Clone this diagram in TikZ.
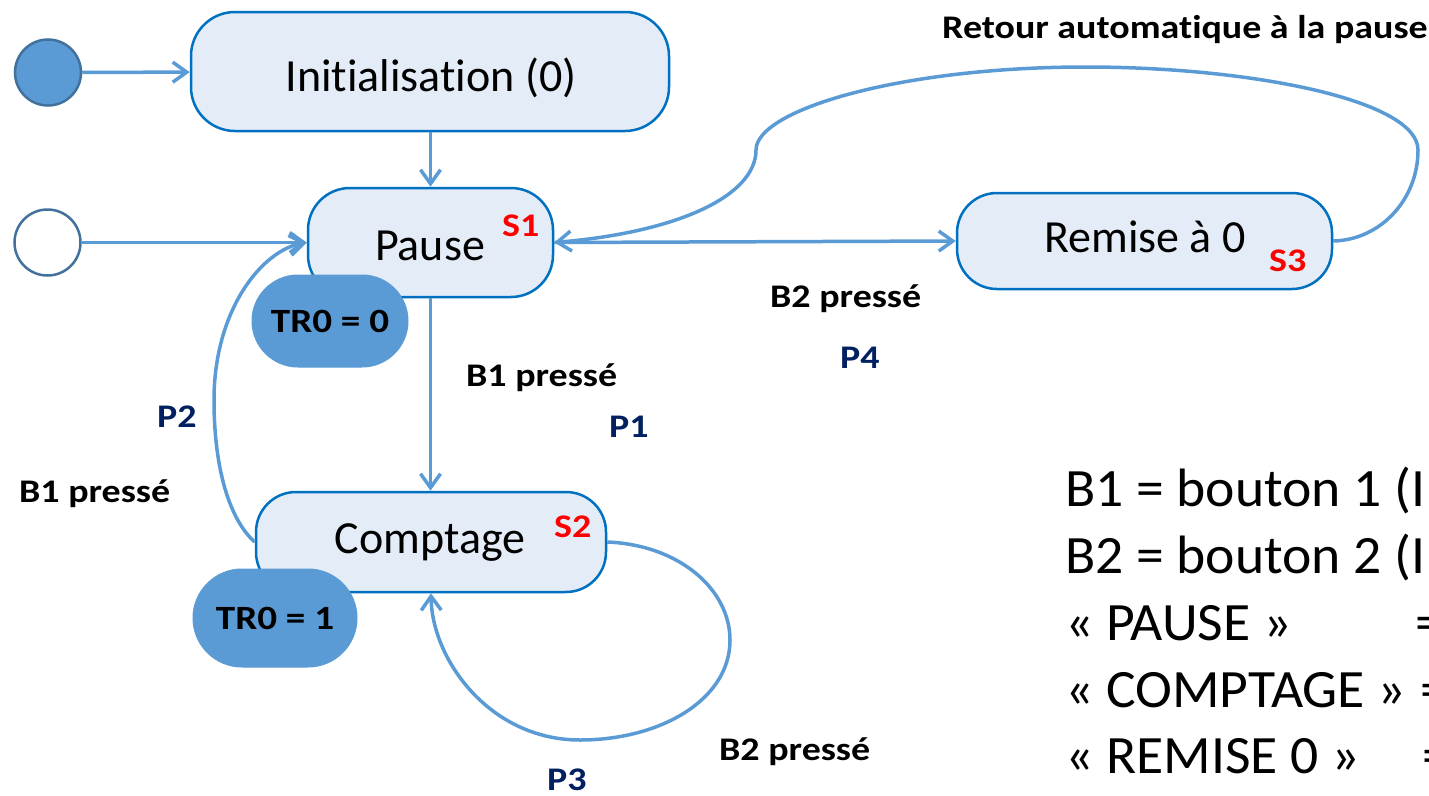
\documentclass[tikz,border=0pt]{standalone}
\usepackage{fontspec}
\setmainfont{Carlito}[Ligatures=NoCommon]
\newfontfamily\lblfont{Carlito}[FakeStretch=1.15, Ligatures=NoCommon]
\newfontfamily\legfont{Carlito}[FakeStretch=1.03, Ligatures=NoCommon]
\usetikzlibrary{arrows.meta}

\definecolor{stateFill}{RGB}{228,236,247}
\definecolor{stateLine}{RGB}{0,112,192}
\definecolor{connBlue}{RGB}{91,155,213}
\definecolor{ringLine}{RGB}{65,113,156}
\definecolor{navyTxt}{RGB}{0,32,96}
\definecolor{tagRed}{RGB}{255,0,0}

\begin{document}
\begin{tikzpicture}[x=1pt,y=-1pt,
  statebox/.style={draw=stateLine, line width=2.5pt, fill=stateFill, inner sep=0pt},
  pill/.style={fill=connBlue, draw=connBlue, line width=1pt, inner sep=0pt,
    font=\lblfont\bfseries\fontsize{34}{40}\selectfont},
  startdot/.style={circle, draw=ringLine, line width=2.5pt, minimum size=66pt, inner sep=0pt},
  conn/.style={draw=connBlue, line width=3.5pt,
    -{Straight Barb[length=14pt,width=20pt,line width=3.5pt]}},
  sname/.style={inner sep=0pt, anchor=base, font=\fontsize{46}{55}\selectfont},
  tag/.style={inner sep=0pt, anchor=base west, text=tagRed,
    font=\lblfont\bfseries\fontsize{33}{40}\selectfont},
  lbl/.style={inner sep=0pt, anchor=base west,
    font=\lblfont\bfseries\fontsize{33}{40}\selectfont},
  plbl/.style={lbl, text=navyTxt},
  legend/.style={inner sep=0pt, anchor=base west, font=\legfont\fontsize{54}{64}\selectfont}
]
\useasboundingbox (0,0) rectangle (1429,795);

% initial pseudo-states
\node[startdot, fill=connBlue] (start1) at (48,72.5) {};
\node[startdot, fill=white] (start2) at (47.5,242.5) {};

% states
\node[statebox, rounded corners=44pt, minimum width=478pt, minimum height=119pt] (init) at (430,71.5) {};
\node[statebox, rounded corners=42pt, minimum width=245pt, minimum height=109pt] (pause) at (430.5,242.5) {};
\node[statebox, rounded corners=40pt, minimum width=350pt, minimum height=100pt] (comptage) at (431,542) {};
\node[statebox, rounded corners=40pt, minimum width=375pt, minimum height=96pt] (remise) at (1144.5,241) {};

\node[sname] (initT) at (431,91) {Initialisation (0)};
\node[sname] (pauseT) at (430,260) {Pause};
\node[sname] (comptageT) at (430,553) {Comptage};
\node[sname] (remiseT) at (1145,252) {Remise à 0};

\node[tag] (s1) at (502,236) {S1};
\node[tag] (s2) at (554,537) {S2};
\node[tag] (s3) at (1269,271) {S3};

% output values
\node[pill, rounded corners=46pt, minimum width=156pt, minimum height=92pt] (tr0a) at (330,321) {TR0 = 0};
\node[pill, rounded corners=49pt, minimum width=164pt, minimum height=98pt] (tr0b) at (275,618) {TR0 = 1};

% transitions
\draw[conn] (start1) -- (init);
\draw[conn] (start2) -- (pause);
\draw[conn] (init.south -| pause.north) -- (pause.north);
\draw[conn] (pause.south) -- (pause.south |- comptage.north);
\draw[conn] (pause.east) -- (remise.west);
\draw[conn] (remise.east) .. controls (1380,240) and (1418,200) .. (1418,150)
  .. controls (1418,100) and (1250,67) .. (1086,67)
  .. controls (900,67) and (756,110) .. (756,150)
  .. controls (756,195) and (680,232) .. (pause.east);
\draw[conn] (comptage.west) .. controls (230,520) and (214,470) .. (214,400)
  .. controls (214,310) and (262,250) .. (pause.west);
\draw[conn] (comptage.east) .. controls (680,545) and (730,590) .. (730,640)
  .. controls (730,700) and (660,740) .. (580,740)
  .. controls (490,740) and (432,660) .. (comptage.south);

% transition labels
\node[lbl] (retour) at (942,38) {Retour automatique à la pause};
\node[lbl] (b2a) at (770,307) {B2 pressé};
\node[plbl] (p4) at (840,368) {P4};
\node[lbl] (b1a) at (466,386) {B1 pressé};
\node[plbl] (p1) at (609,437) {P1};
\node[plbl] (p2) at (157,427) {P2};
\node[lbl] (b1b) at (19,502) {B1 pressé};
\node[lbl] (b2b) at (719,760) {B2 pressé};
\node[plbl] (p3) at (547,790) {P3};

% legend (runs past the right edge of the page)
\node[legend] (leg1) at (1065,506) {B1 = bouton 1 (I};
\node[legend] (leg2) at (1065,573) {B2 = bouton 2 (I};
\node[legend] (leg3) at (1065,640) {« PAUSE »};
\node[legend] (leg3b) at (1415,640) {=};
\node[legend] (leg4) at (1065,707) {« COMPTAGE »};
\node[legend] (leg4b) at (1420,707) {=};
\node[legend] (leg5) at (1065,773) {« REMISE 0 »};
\node[legend] (leg5b) at (1422,773) {=};
\end{tikzpicture}
\end{document}
